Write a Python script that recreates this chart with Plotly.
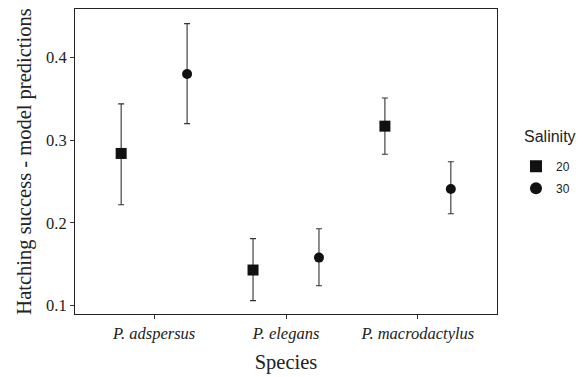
import plotly.graph_objects as go

species = ["P. adspersus", "P. elegans", "P. macrodactylus"]
salinity = ["20", "30"]
mean_20 = [0.284, 0.143, 0.317]
low_20 = [0.222, 0.106, 0.283]
high_20 = [0.344, 0.181, 0.351]
mean_30 = [0.380, 0.158, 0.241]
low_30 = [0.320, 0.124, 0.211]
high_30 = [0.441, 0.193, 0.274]

dodge = 0.25
base = [1, 2, 3]

fig = go.Figure()
for name, m, lo, hi, sym, sz, off in [
    (salinity[0], mean_20, low_20, high_20, "square", 11, -dodge),
    (salinity[1], mean_30, low_30, high_30, "circle", 10, dodge),
]:
    fig.add_trace(go.Scatter(
        x=[b + off for b in base], y=m, mode="markers", name=name,
        legendgroup=name,
        marker=dict(symbol=sym, size=sz, color="#111111"),
        error_y=dict(type="data", symmetric=False,
                     array=[h - v for h, v in zip(hi, m)],
                     arrayminus=[v - l for v, l in zip(m, lo)],
                     color="#333333", thickness=1.1, width=3),
    ))

serif = "Liberation Serif, Times New Roman, serif"
sans = "Liberation Sans, Arial, sans-serif"
fig.update_layout(
    width=583, height=377,
    margin=dict(l=75, r=86, t=8, b=61),
    plot_bgcolor="white", paper_bgcolor="white",
    font=dict(family=serif, color="#222222"),
    xaxis=dict(range=[0.4, 3.6], tickvals=base,
               ticktext=["<i>%s</i>" % s for s in species],
               showline=True, linecolor="#222222", linewidth=1, mirror=True,
               ticks="outside", ticklen=4, tickcolor="#333333",
               showgrid=False, zeroline=False,
               tickfont=dict(size=16.5, family=serif, color="#222222"),
               title=dict(text="Species", font=dict(size=20.5, family=serif), standoff=12)),
    yaxis=dict(range=[0.0898, 0.4587], tickvals=[0.1, 0.2, 0.3, 0.4],
               ticktext=["0.1", "0.2", "0.3", "0.4"],
               showline=True, linecolor="#222222", linewidth=1, mirror=True,
               ticks="outside", ticklen=4, tickcolor="#333333",
               showgrid=False, zeroline=False,
               tickfont=dict(size=16.5, family=serif, color="#222222"),
               title=dict(text="Hatching success - model predictions",
                          font=dict(size=20.5, family=serif), standoff=8)),
    legend=dict(font=dict(size=12, family=sans),
                x=1.045, xanchor="left", y=0.532, yanchor="top",
                traceorder="grouped", tracegroupgap=3,
                bgcolor="rgba(0,0,0,0)", itemsizing="constant"),
    showlegend=True,
    annotations=[dict(text="Salinity", xref="paper", yref="paper",
                      x=(522 - 75) / 422, y=(316 - 137) / 308,
                      xanchor="left", yanchor="middle", showarrow=False,
                      font=dict(size=16, family=sans, color="#222222"))],
)

fig.write_html("out.html")
